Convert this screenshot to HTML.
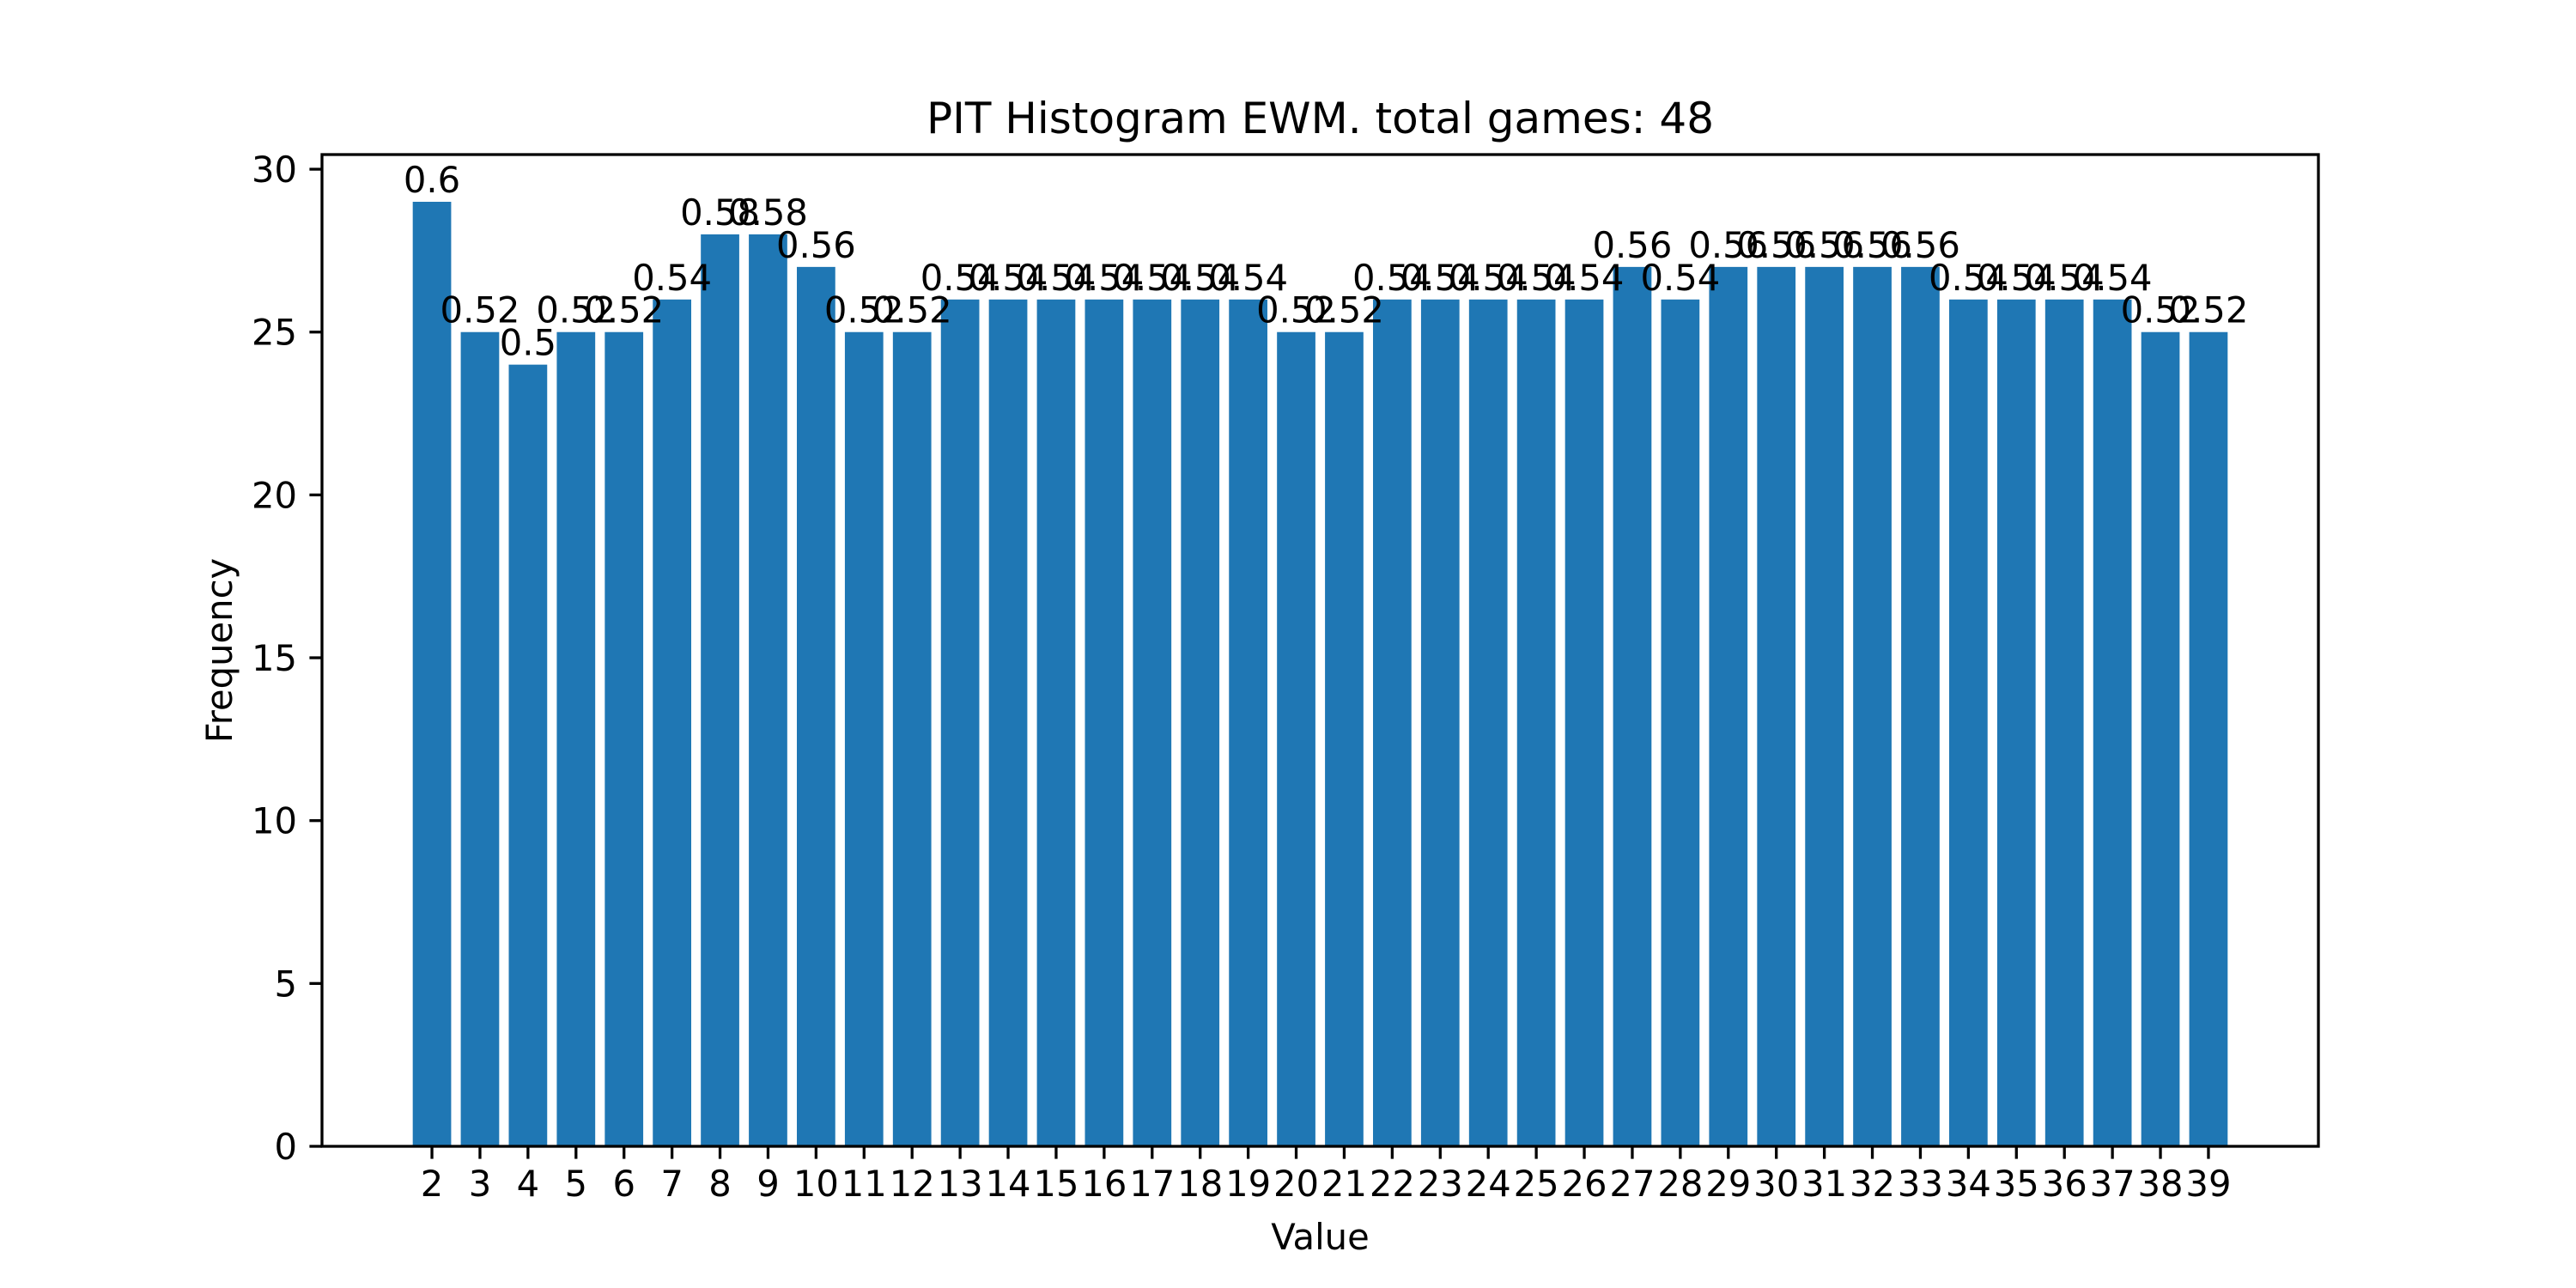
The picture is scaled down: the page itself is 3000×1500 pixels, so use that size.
<!DOCTYPE html>
<html><head><meta charset="utf-8"><style>
html,body{margin:0;padding:0;background:#fff}
svg{display:block}
text{font-family:"DejaVu Sans","Liberation Sans",sans-serif;fill:#000}
</style></head><body>
<svg id="chart" width="3000" height="1500" viewBox="0 0 3000 1500" xmlns="http://www.w3.org/2000/svg">
<rect width="3000" height="1500" fill="#fff"/>
<text x="1537.5" y="155" font-size="50" text-anchor="middle">PIT Histogram EWM. total games: 48</text>
<g id="bars"></g>
<g id="labels"></g>
<g id="xticks"></g>
<g id="yticks"></g>
<rect x="375" y="180" width="2325" height="1155" fill="none" stroke="#000" stroke-width="3.3"/>
<text x="1537.5" y="1455" font-size="41.7" text-anchor="middle">Value</text>
<text x="270" y="757.5" font-size="41.7" text-anchor="middle" transform="rotate(-90 270 757.5)">Frequency</text>
</svg>
<script>
const categories = [2,3,4,5,6,7,8,9,10,11,12,13,14,15,16,17,18,19,20,21,22,23,24,25,26,27,28,29,30,31,32,33,34,35,36,37,38,39];
const frequencies = [29,25,24,25,25,26,28,28,27,25,25,26,26,26,26,26,26,26,25,25,26,26,26,26,26,27,26,27,27,27,27,27,26,26,26,26,25,25];
const barLabels = ["0.6","0.52","0.5","0.52","0.52","0.54","0.58","0.58","0.56","0.52","0.52","0.54","0.54","0.54","0.54","0.54","0.54","0.54","0.52","0.52","0.54","0.54","0.54","0.54","0.54","0.56","0.54","0.56","0.56","0.56","0.56","0.56","0.54","0.54","0.54","0.54","0.52","0.52"];
const yTicks = [0,5,10,15,20,25,30];

const NS = "http://www.w3.org/2000/svg";
const L = 375, R = 2700, T = 180, B = 1335, W = 0.8;
const xMinD = Math.min(...categories) - W/2, xMaxD = Math.max(...categories) + W/2;
const xPad = (xMaxD - xMinD) * 0.05;
const x0 = xMinD - xPad, x1 = xMaxD + xPad;
const yMax = Math.max(...frequencies) * 1.05;
const xs = v => L + (v - x0) / (x1 - x0) * (R - L);
const ys = v => B - v / yMax * (B - T);

function mk(tag, attrs, parent) {
  const e = document.createElementNS(NS, tag);
  for (const k in attrs) e.setAttribute(k, attrs[k]);
  parent.appendChild(e);
  return e;
}
const gb = document.getElementById('bars'), gl = document.getElementById('labels');
const gx = document.getElementById('xticks'), gy = document.getElementById('yticks');

categories.forEach((c, i) => {
  const v = frequencies[i];
  const xl = xs(c - W/2), xr = xs(c + W/2);
  const r = mk('rect', {x: xl, y: ys(v), width: xr - xl, height: B - ys(v), fill: '#1f77b4'}, gb);
  
  
  const t = mk('text', {x: xs(c), y: ys(v) - 11, 'font-size': 41.7, 'text-anchor': 'middle'}, gl);
  t.textContent = barLabels[i];
  
  
  const tk = mk('line', {x1: xs(c), x2: xs(c), y1: B, y2: B + 14.6, stroke: '#000', 'stroke-width': 3.3}, gx);
  
  
  const tl = mk('text', {x: xs(c), y: B + 58, 'font-size': 41.7, 'text-anchor': 'middle'}, gx);
  tl.textContent = c;
  
  
});
yTicks.forEach(v => {
  const tk = mk('line', {x1: L - 14.6, x2: L, y1: ys(v), y2: ys(v), stroke: '#000', 'stroke-width': 3.3}, gy);
  
  
  const tl = mk('text', {x: L - 29, y: ys(v) + 15, 'font-size': 41.7, 'text-anchor': 'end'}, gy);
  tl.textContent = v;
  
  
});
</script>
</body></html>
